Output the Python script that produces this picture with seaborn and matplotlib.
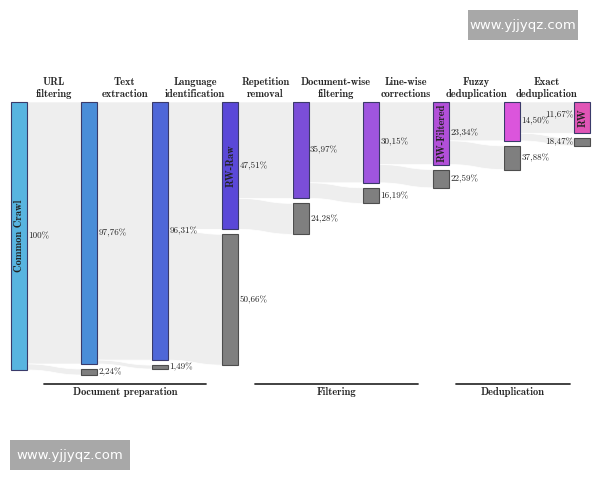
import matplotlib
matplotlib.use("Agg")
import matplotlib.pyplot as plt
from matplotlib.path import Path
from matplotlib.patches import PathPatch, Rectangle
import seaborn as sns

# ----------------------------------------------------------
# DATA
# ----------------------------------------------------------

stages = ["URL\nfiltering", "Text\nextraction", "Language\nidentification",
          "Repetition\nremoval", "Document-wise\nfiltering", "Line-wise\ncorrections",
          "Fuzzy\ndeduplication", "Exact\ndeduplication"]
node_names = ["Common Crawl", "", "", "RW-Raw", "", "", "RW-Filtered", "", "RW"]
# share of the original Common Crawl kept after each step (%)
kept_pct = [100, 97.76, 96.31, 47.51, 35.97, 30.15, 23.34, 14.50, 11.67]
# share removed by each step, relative to what entered the step (%)
removed_pct = [None, 2.24, 1.49, 50.66, 24.28, 16.19, 22.59, 37.88, 18.47]
phases = ["Document preparation", "Filtering", "Deduplication"]

node_colors = ["#58b4e0", "#4a8dd8", "#4f67d8", "#5a48d8", "#7b4ed8",
               "#9f55df", "#b24fd9", "#db55dc", "#e055b6"]

# ----------------------------------------------------------
# LAYOUT
# ----------------------------------------------------------

sns.set_theme(style="white")
plt.rcParams["font.family"] = ["cmr10", "DejaVu Serif"]
BOLD = ["cmb10", "DejaVu Serif"]

fig = plt.figure(figsize=(6, 4.8), dpi=100)
ax = fig.add_axes([0, 0, 1, 1])
ax.set_xlim(0, 600)
ax.set_ylim(480, 0)
ax.axis("off")

top = 102
scale = 2.68       # pixels per percent
x0, dx, w = 11, 70.4, 16
gap = 5
flow_col = "#eeeeee"
gray = "#7f7f7f"
pct_size = 6.5


def band(xa, ya0, ya1, xb, yb0, yb1):
    xm = (xa + xb) / 2
    verts = [(xa, ya0), (xm, ya0), (xm, yb0), (xb, yb0),
             (xb, yb1), (xm, yb1), (xm, ya1), (xa, ya1), (xa, ya0)]
    codes = [Path.MOVETO, Path.CURVE4, Path.CURVE4, Path.CURVE4,
             Path.LINETO, Path.CURVE4, Path.CURVE4, Path.CURVE4, Path.CLOSEPOLY]
    ax.add_patch(PathPatch(Path(verts, codes), facecolor=flow_col,
                           edgecolor="white", lw=0.5, zorder=1))


def fmt(v):
    return "100%" if v == 100 else f"{v:.2f}".replace(".", ",") + "%"


def label(x, y, v, left=False):
    if left:
        ax.text(x - 1, y, fmt(v), ha="right", va="center",
                fontsize=pct_size, zorder=4)
    else:
        ax.text(x + w + 1.5, y, fmt(v), ha="left", va="center",
                fontsize=pct_size, zorder=4)


n = len(kept_pct)
for i in range(n):
    x = x0 + i * dx
    h = kept_pct[i] * scale
    last = i == n - 1

    # flows from previous node
    if i > 0:
        xp = x0 + (i - 1) * dx + w
        hp = kept_pct[i - 1] * scale
        hr = hp - h
        band(xp, top, top + h, x, top, top + h)
        band(xp, top + h, top + hp, x, top + h + gap, top + h + gap + hr)

        # removed node
        ax.add_patch(Rectangle((x, top + h + gap), w, hr, facecolor=gray,
                               edgecolor="#4d4d4d", lw=0.8, zorder=3))
        label(x, top + h + gap + hr / 2, removed_pct[i], left=last)

    # kept node
    ax.add_patch(Rectangle((x, top), w, h, facecolor=node_colors[i],
                           edgecolor="#3a3a6a", lw=0.8, zorder=3))
    label(x, top + h / 2 - (3 if last else 0), kept_pct[i], left=last)
    if node_names[i]:
        ax.text(x + w / 2, top + h / 2, node_names[i], rotation=90,
                ha="center", va="center", fontsize=7.5, family=BOLD,
                color="#222222", zorder=4)

# stage headers
for i, s in enumerate(stages):
    xc = x0 + (i + 0.5) * dx + w / 2
    ax.text(xc, 88, s, ha="center", va="center", fontsize=7.5,
            family=BOLD, linespacing=1.35)

# phase brackets
phase_span = [(44, 206), (255, 418), (456, 570)]
for name, (a, b) in zip(phases, phase_span):
    ax.plot([a, b], [384, 384], color="#333333", lw=1.3)
    ax.text((a + b) / 2, 392, name, ha="center", va="center",
            fontsize=7.5, family=BOLD)

# watermarks
for (bx, by, bw, bh) in [(468, 10, 110, 30), (10, 440, 120, 30)]:
    ax.add_patch(Rectangle((bx, by), bw, bh, facecolor="#a8a8a8",
                           edgecolor="none", zorder=5))
    ax.text(bx + bw / 2, by + bh / 2, "www.yjjyqz.com", ha="center",
            va="center", color="white", fontsize=9.5, family="DejaVu Sans",
            zorder=6)

fig.savefig("out.png", dpi=100, facecolor="white")
